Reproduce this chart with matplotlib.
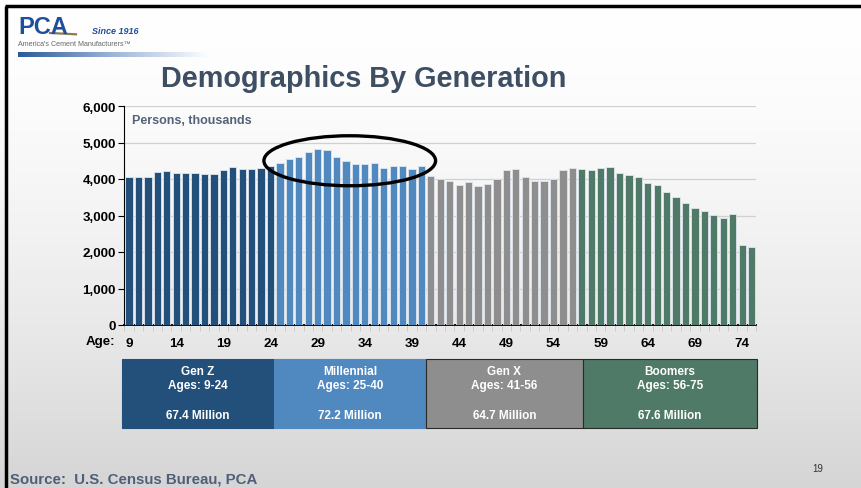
import numpy as np
import matplotlib
matplotlib.use("Agg")
import matplotlib.pyplot as plt
from matplotlib.patches import Ellipse, Rectangle
from matplotlib.colors import LinearSegmentedColormap

plt.rcParams['font.family'] = ['Liberation Sans', 'DejaVu Sans']

# ---- data ----
ages = list(range(9, 76))
population = [4064, 4064, 4064, 4183, 4210, 4174, 4164, 4174, 4146, 4146,
              4247, 4329, 4265, 4265, 4301, 4347,
              4438, 4535, 4612, 4731, 4813, 4800, 4612, 4493, 4411, 4411,
              4438, 4301, 4356, 4347, 4283, 4356,
              4082, 3991, 3940, 3826, 3930, 3799, 3854, 4009, 4237, 4274,
              4046, 3954, 3945, 4009, 4237, 4301,
              4274, 4256, 4292, 4320, 4155, 4110, 4046, 3890, 3836, 3653,
              3498, 3342, 3215, 3123, 3005, 2941, 3032, 2201, 2137]
generations = ["Gen Z", "Millennial", "Gen X", "Boomers"]
gen_first_age = [9, 25, 41, 57]
gen_last_age = [24, 40, 56, 75]
gen_age_labels = ["Ages: 9-24", "Ages: 25-40", "Ages: 41-56", "Ages: 56-75"]
gen_totals = ["67.4 Million", "72.2 Million", "64.7 Million", "67.6 Million"]
gen_colors = ["#234f7b", "#4f89bf", "#8e8e8e", "#4f7a67"]
tick_ages = list(range(9, 76, 5))
yticks = [0, 1000, 2000, 3000, 4000, 5000, 6000]

W, H = 861, 489
fig = plt.figure(figsize=(W / 100, H / 100), dpi=100)

# background gradient
bg = fig.add_axes([0, 0, 1, 1], zorder=-10)
grad = np.linspace(0, 1, 256).reshape(-1, 1) ** 1.6
cmap = LinearSegmentedColormap.from_list("bg", ["#ffffff", "#d5d5d5"])
bg.imshow(grad, aspect="auto", cmap=cmap, extent=[0, 1, 0, 1], origin="upper")
bg.set_xlim(0, 1); bg.set_ylim(0, 1)
bg.axis("off")
# slide border lines (top & left)
bg.plot([5 / W, 1], [1 - 6.5 / H, 1 - 6.5 / H], color="black", lw=2.5, solid_capstyle="butt")
bg.plot([5.5 / W, 5.5 / W], [0, 1 - 6.5 / H], color="black", lw=2.5, solid_capstyle="butt")
# logo bar gradient
barg = np.linspace(0, 1, 256).reshape(1, -1)
cmap2 = LinearSegmentedColormap.from_list("lb", ["#2b5a9a", "#9fb6d8", "#ffffff"])
bg.imshow(barg, aspect="auto", cmap=cmap2, extent=[18 / W, 210 / W, 1 - 58 / H, 1 - 53 / H], zorder=2)
# logo swoosh
sx = np.linspace(50, 76, 30)
sy = 34 - 10 * np.exp(-((sx - 52) / 6) ** 2) * 0 + (sx - 50) * 0.05
bg.plot(sx / W, 1 - sy / H, color="#8a7a5a", lw=1.6, zorder=3)

# logo texts
fig.text(18 / W, 1 - 27 / H, "PCA", fontsize=17, fontweight="bold", color="#1d4f9c",
         ha="left", va="center")
fig.text(92 / W, 1 - 31 / H, "Since 1916", fontsize=6.5, fontweight="bold", style="italic",
         color="#1d4f9c", ha="left", va="center")
fig.text(18 / W, 1 - 45 / H, "America's Cement Manufacturers\u2122", fontsize=5.1,
         color="#666666", ha="left", va="center")

# title
fig.text(364 / W, 1 - 79 / H, "Demographics By Generation", fontsize=20.8,
         fontweight="bold", color="#3e4e63", ha="center", va="center")

# main axes
ax = fig.add_axes([124.3 / W, 1 - 326 / H, 632 / W, 219 / H])
ax.patch.set_alpha(0)
colors = []
for a in ages:
    for i in range(4):
        if gen_first_age[i] <= a <= gen_last_age[i]:
            colors.append(gen_colors[i])
            break
ax.bar(ages, population, width=0.77, color=colors, edgecolor="#dfe6ee", linewidth=0.6, zorder=3)
ax.set_xlim(8.5, 75.5)
ax.set_ylim(0, 6000)
ax.set_yticks(yticks)
ax.set_yticklabels([f"{v:,}" for v in yticks], fontweight="bold", fontsize=9.6)
ax.set_xticks(tick_ages)
ax.set_xticklabels([str(a) for a in tick_ages], fontweight="bold", fontsize=9.6)
ax.set_xticks([a + 0.5 for a in range(8, 76)], minor=True)
ax.tick_params(axis="x", which="major", length=0, pad=9)
ax.tick_params(axis="x", which="minor", length=4, color="#c8c8c8", direction="out")
ax.tick_params(axis="y", length=4, direction="out", pad=2)
ax.grid(axis="y", color="#d0d0d0", linewidth=0.9, zorder=0)
for s in ["top", "right"]:
    ax.spines[s].set_visible(False)
ax.spines["left"].set_color("black")
ax.spines["bottom"].set_color("black")
ax.spines["bottom"].set_linewidth(1.3)
ax.text(0.012, 0.965, "Persons, thousands", transform=ax.transAxes, fontsize=9,
        fontweight="bold", color="#54637a", ha="left", va="top")
fig.text(100 / W, 1 - 342 / H, "Age:", fontsize=9.6, fontweight="bold", ha="center", va="center")

# ellipse highlight
ell = Ellipse((32.4, 4500), width=18.2, height=1370, fill=False, edgecolor="black",
              linewidth=2.4, zorder=5, clip_on=False)
ax.add_patch(ell)

# generation boxes
box_x = [122, 274, 426, 583, 757]
for i in range(4):
    x0 = box_x[i] / W
    w = (box_x[i + 1] - box_x[i]) / W
    ec = "#2a2a2a" if i >= 2 else gen_colors[i]
    r = Rectangle((x0, 1 - 429 / H), w, 69 / H, transform=fig.transFigure,
                  facecolor=gen_colors[i], edgecolor=ec, linewidth=0.8)
    fig.patches.append(r)
    cx = x0 + w / 2
    fig.text(cx, 1 - 372 / H, generations[i], fontsize=8.5, fontweight="bold",
             color="white", ha="center", va="center")
    fig.text(cx, 1 - 386 / H, gen_age_labels[i], fontsize=8.5, fontweight="bold",
             color="white", ha="center", va="center")
    fig.text(cx, 1 - 416 / H, gen_totals[i], fontsize=8.5, fontweight="bold",
             color="white", ha="center", va="center")

fig.text(10 / W, 1 - 480 / H, "Source:  U.S. Census Bureau, PCA", fontsize=10.8,
         fontweight="bold", color="#4f5f77", ha="left", va="center")
fig.text(818 / W, 1 - 469 / H, "19", fontsize=7, color="#333333", ha="center", va="center")

fig.savefig("out.png", dpi=100)
